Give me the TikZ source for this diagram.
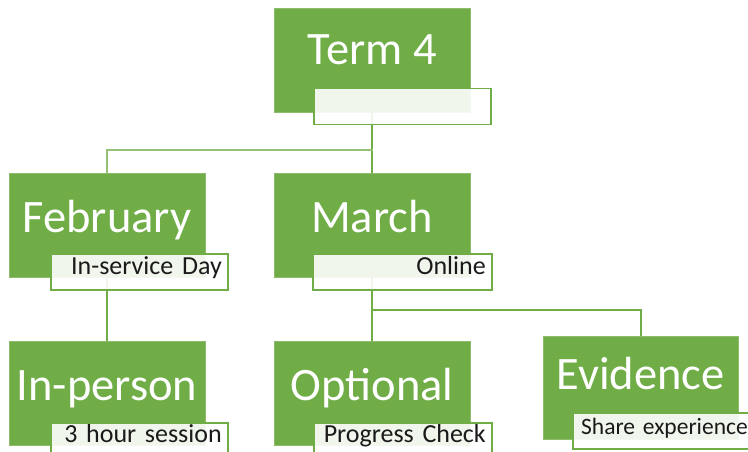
\documentclass[tikz,border=0pt]{standalone}
\usepackage{fontspec}
\setmainfont{Carlito}
\definecolor{tgreen}{HTML}{70AD47}
\definecolor{notetext}{HTML}{1A1A1A}
\tikzset{
  month/.style={rectangle, fill=tgreen, draw=tgreen!80!white, line width=0.6pt,
    anchor=north west, minimum width=196pt, minimum height=104pt,
    inner sep=0pt, outer sep=0pt},
  head/.style={anchor=base, text=white, inner sep=0pt,
    font=\fontsize{46.5}{50}\selectfont},
  note/.style={rectangle, draw=tgreen, line width=1.5pt, fill=white,
    fill opacity=0.9, text opacity=1, text=notetext, anchor=north west,
    minimum height=36pt, text width=165pt, inner xsep=6pt, inner ysep=0pt,
    text height=14pt, text depth=8pt,
    align=right, font=\fontsize{26}{28}\selectfont},
  link/.style={draw=tgreen, line width=2pt}
}
\begin{document}
\begin{tikzpicture}[x=1pt, y=-1pt]
\useasboundingbox (0,0) rectangle (748,452);
\clip (0,0) rectangle (748,452);
% green boxes
\node[month] (term) at (274,8) {};
\node[month] (feb) at (9,173) {};
\node[month] (mar) at (274,173) {};
\node[month] (inp) at (9,341) {};
\node[month] (opt) at (274,341) {};
\node[month, minimum width=195pt, minimum height=103pt] (evi) at (543,336) {};
% branch points
\coordinate (tbus) at (372.5,150);
\coordinate (mbus) at (372.5,310);
% connectors
\draw[link] (term.south) -- (mar.north);
\draw[link, line width=2.6pt, draw=tgreen!75!white] (feb.north) |- (tbus);
\draw[link] (feb.south) -- (inp.north);
\draw[link] (mar.south) -- (opt.north);
\draw[link] (evi.north) |- (mbus);
% captions
\node[note] (termn) at (313,88) {};
\node[note] (febn) at (50,253) {In-service Day};
\node[note, text width=167pt] (marn) at (312,253) {Online};
\node[note, text depth=10pt] (inpn) at (50,422) {3 hour session};
\node[note, text width=166pt, text depth=10pt] (optn) at (313,422) {Progress Check};
\node[note, text width=170pt, inner xsep=5pt, text depth=6pt,
  font=\fontsize{23.5}{26}\selectfont] (evin) at (572,412) {\mbox{Share experience}};
% titles
\node[head] (termt) at ([yshift=-57pt]term.north) {Term 4};
\node[head] (febt) at ([yshift=-59pt]feb.north) {February};
\node[head] (mart) at ([yshift=-59pt]mar.north) {March};
\node[head] (inpt) at ([yshift=-59pt]inp.north) {In-person};
\node[head] (optt) at ([yshift=-59pt]opt.north) {Optional};
\node[head] (evit) at ([yshift=-53pt]evi.north) {Evidence};
\end{tikzpicture}
\end{document}
